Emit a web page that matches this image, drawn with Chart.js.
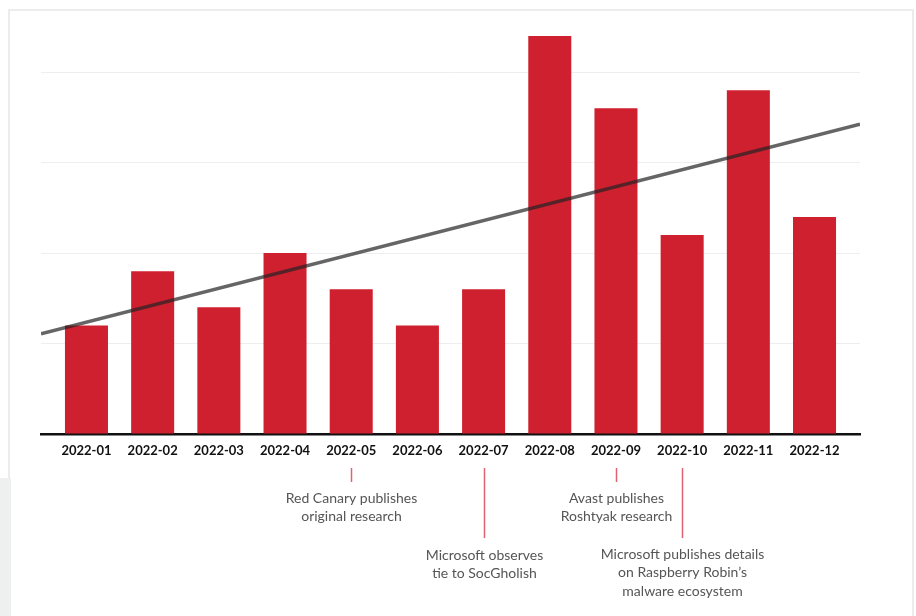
<!DOCTYPE html>
<html>
<head>
<meta charset="utf-8">
<script src="https://cdn.jsdelivr.net/npm/chart.js@4/dist/chart.umd.min.js"></script>
<style>
  html, body { margin: 0; padding: 0; background: #ffffff; width: 916px; height: 616px; overflow: hidden; }
  #frame { position: absolute; left: 8px; top: 9px; width: 902px; height: 640px; border: 2px solid #ececec; background: #fff; }
  #corner { position: absolute; left: 0; top: 478px; width: 11px; height: 138px; background: #eef0ef; }
  #wrap { position: absolute; left: 0; top: 0; width: 916px; height: 616px; }
</style>
</head>
<body>
<div id="frame"></div>
<div id="corner"></div>
<div id="wrap"><canvas id="c" width="916" height="616"></canvas></div>
<script>
// ---- data ----
const months = ['2022-01','2022-02','2022-03','2022-04','2022-05','2022-06','2022-07','2022-08','2022-09','2022-10','2022-11','2022-12'];
const counts = [6, 9, 7, 10, 8, 6, 8, 22, 18, 11, 19, 12];
const gridValues = [0, 5, 10, 15, 20];
const annotationMonths = ['2022-05', '2022-07', '2022-09', '2022-10'];
const annotationTexts = [
  ['Red Canary publishes', 'original research'],
  ['Microsoft observes', 'tie to SocGholish'],
  ['Avast publishes', 'Roshtyak research'],
  ['Microsoft publishes details', 'on Raspberry Robin\u2019s', 'malware ecosystem']
];

// ---- layout / style (not data) ----
const X_MIN = -0.687, X_MAX = 11.687;
const annotationStyle = [
  { lineTop: 468, lineBottom: 482, textTop: 498 },
  { lineTop: 468, lineBottom: 538, textTop: 555 },
  { lineTop: 468, lineBottom: 482, textTop: 498 },
  { lineTop: 468, lineBottom: 538, textTop: 554 }
];

// least-squares trend of the monthly counts
const n = counts.length;
const mx = (n - 1) / 2;
const my = counts.reduce((a, b) => a + b, 0) / n;
let sxy = 0, sxx = 0;
counts.forEach((v, i) => { sxy += (i - mx) * (v - my); sxx += (i - mx) * (i - mx); });
const slope = sxy / sxx;
const trend = x => my + slope * (x - mx);

const barData = counts.map((v, i) => ({ x: i, y: v }));
const trendData = [X_MIN, X_MAX].map(x => ({ x: x, y: trend(x) }));

const annotationPlugin = {
  id: 'annotations',
  afterDraw(chart) {
    const ctx = chart.ctx;
    const xs = chart.scales.x;
    ctx.save();
    annotationMonths.forEach((m, k) => {
      const px = Math.round(xs.getPixelForValue(months.indexOf(m))) + 0.5;
      const st = annotationStyle[k];
      ctx.strokeStyle = '#e06373';
      ctx.lineWidth = 1.5;
      ctx.beginPath();
      ctx.moveTo(px, st.lineTop);
      ctx.lineTo(px, st.lineBottom);
      ctx.stroke();
      ctx.fillStyle = '#555555';
      ctx.font = '14px Lato, "Open Sans", sans-serif';
      ctx.textAlign = 'center';
      ctx.textBaseline = 'middle';
      annotationTexts[k].forEach((t, j) => {
        ctx.fillText(t, px, st.textTop + j * 18.5);
      });
    });
    ctx.restore();
  }
};

new Chart(document.getElementById('c'), {
  type: 'bar',
  data: {
    datasets: [
      {
        type: 'line',
        data: trendData,
        borderColor: 'rgba(35,35,35,0.7)',
        borderWidth: 3.5,
        pointRadius: 0,
        fill: false,
        order: 0
      },
      {
        type: 'bar',
        data: barData,
        backgroundColor: '#cf202f',
        barPercentage: 0.65,
        categoryPercentage: 1,
        order: 1
      }
    ]
  },
  options: {
    responsive: false,
    animation: false,
    devicePixelRatio: 1,
    layout: { padding: { left: 41, right: 56, top: 36, bottom: 152 } },
    plugins: { legend: { display: false }, tooltip: { enabled: false } },
    scales: {
      x: {
        type: 'linear',
        offset: false,
        min: X_MIN,
        max: X_MAX,
        afterBuildTicks(s) { s.ticks = months.map((m, i) => ({ value: i })); },
        afterFit(s) { s.height = 30; },
        grid: { display: false, drawTicks: false, offset: false },
        border: { display: true, color: '#111111', width: 2.5 },
        ticks: {
          padding: 9,
          maxRotation: 0,
          autoSkip: false,
          color: '#111111',
          font: { family: 'Lato, "Open Sans", sans-serif', size: 13, weight: 'bold' },
          callback: v => months[v]
        }
      },
      y: {
        min: 0,
        max: 22,
        afterBuildTicks(s) { s.ticks = gridValues.map(v => ({ value: v })); },
        afterFit(s) { s.width = 0; },
        ticks: { display: false },
        border: { display: false },
        grid: { color: '#eeeeee', lineWidth: 1, drawTicks: false }
      }
    }
  },
  plugins: [annotationPlugin]
});
</script>
</body>
</html>
